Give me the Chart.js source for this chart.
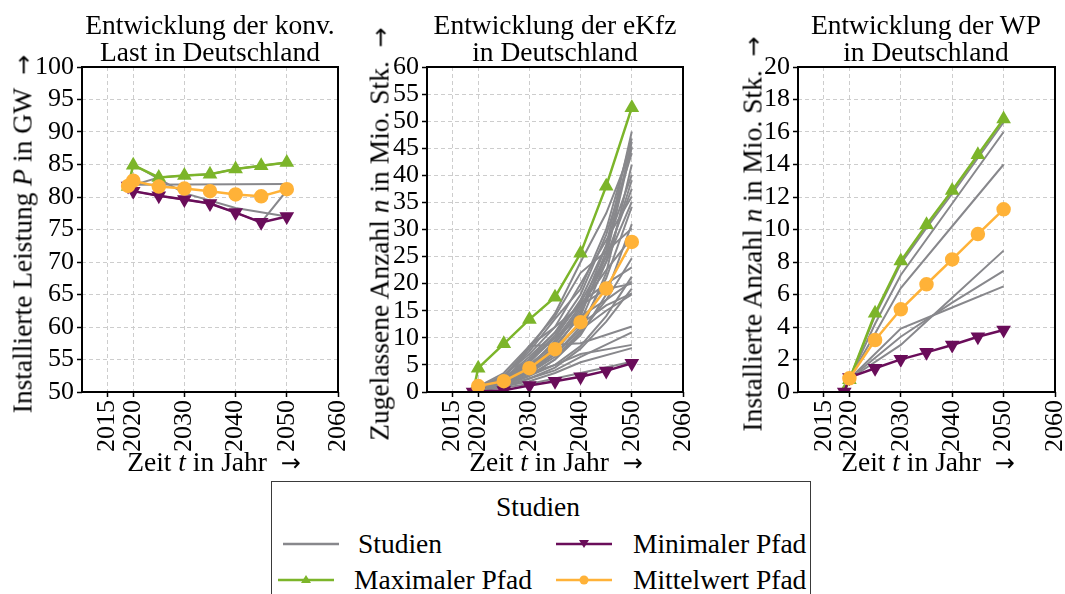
<!DOCTYPE html>
<html lang="de">
<head>
<meta charset="utf-8">
<title>Entwicklung in Deutschland</title>
<script src="https://cdn.jsdelivr.net/npm/chart.js@4.4.1/dist/chart.umd.min.js"></script>
<style>
    html, body { margin: 0; padding: 0; background: #fff; }
    body {
        width: 1065px; height: 594px; overflow: hidden; position: relative;
        font-family: 'Liberation Serif', 'Times New Roman', serif; color: #000;
    }
    canvas { position: absolute; }
    .title { position: absolute; width: 360px; text-align: center; font-size: 27.5px; line-height: 27px; z-index: 2; }
    .ylab, .xlab { position: absolute; white-space: nowrap; font-size: 27.5px; line-height: 28px; z-index: 2; }
    .ylab { transform: translate(-50%, -50%) rotate(-90deg); }
    .xlab { transform: translate(-50%, -50%); }
    .arr { font-family: 'DejaVu Sans', sans-serif; font-size: 24px; }
    #legend {
        position: absolute; left: 271px; top: 481px; width: 540px; height: 130px;
        border: 1px solid #3a3a3a; box-sizing: border-box;
    }
    #legend div { position: absolute; white-space: nowrap; font-size: 27.5px; line-height: 28px; }
    #legend svg { position: absolute; }
</style>
</head>
<body>

<div class="title" style="left:30px; top:11px;">Entwicklung der konv.<br>Last in Deutschland</div>
<div class="title" style="left:375px; top:11px;">Entwicklung der eKfz<br>in Deutschland</div>
<div class="title" style="left:746px; top:11px;">Entwicklung der WP<br>in Deutschland</div>

<canvas id="chartLast" width="326" height="420" style="left:32px; top:47px;"></canvas>
<canvas id="chartEkfz" width="326" height="420" style="left:377px; top:47px;"></canvas>
<canvas id="chartWp" width="327" height="420" style="left:748px; top:47px;"></canvas>

<div class="ylab" style="left:23px; top:234px;">Installierte Leistung <i>P</i> in GW &nbsp;<span class="arr">→</span></div>
<div class="ylab" style="left:380px; top:234px;">Zugelassene Anzahl <i>n</i> in Mio. Stk. &nbsp;<span class="arr">→</span></div>
<div class="ylab" style="left:753px; top:234px;">Installierte Anzahl <i>n</i> in Mio. Stk. &nbsp;<span class="arr">→</span></div>

<div class="xlab" style="left:214px; top:462px;">Zeit <i>t</i> in Jahr &nbsp;<span class="arr">→</span></div>
<div class="xlab" style="left:556px; top:462px;">Zeit <i>t</i> in Jahr &nbsp;<span class="arr">→</span></div>
<div class="xlab" style="left:928px; top:462px;">Zeit <i>t</i> in Jahr &nbsp;<span class="arr">→</span></div>

<div id="legend">
    <div style="left:224px; top:11px;">Studien</div>

    <svg style="left:10px; top:54px;" width="58" height="16">
        <line x1="1" y1="8" x2="57" y2="8" stroke="#88888c" stroke-width="2.5"/>
    </svg>
    <div style="left:86px; top:48px;">Studien</div>

    <svg style="left:5px; top:90px;" width="58" height="16">
        <line x1="1" y1="8" x2="57" y2="8" stroke="#7cb52a" stroke-width="2.5"/>
        <polygon points="29,3 34,11 24,11" fill="#7cb52a"/>
    </svg>
    <div style="left:82px; top:84px;">Maximaler Pfad</div>

    <svg style="left:283px; top:54px;" width="58" height="16">
        <line x1="1" y1="8" x2="57" y2="8" stroke="#6a0d5a" stroke-width="2.5"/>
        <polygon points="24,4 34,4 29,12" fill="#6a0d5a"/>
    </svg>
    <div style="left:361px; top:48px;">Minimaler Pfad</div>

    <svg style="left:283px; top:90px;" width="58" height="16">
        <line x1="1" y1="8" x2="57" y2="8" stroke="#ffb238" stroke-width="2.5"/>
        <circle cx="29" cy="8" r="4.5" fill="#ffb238"/>
    </svg>
    <div style="left:361px; top:84px;">Mittelwert Pfad</div>
</div>

<script>
// Jahre der Stützstellen (gemeinsam für alle Diagramme)
var YEARS = [2019, 2020, 2025, 2030, 2035, 2040, 2045, 2050];
var X_TICKS = [2015, 2020, 2030, 2040, 2050, 2060];

// konv. Last in GW
var LAST_STUDIEN = [
    [null, 81.9, null, null, null, null, null, 82.0],
    [null, 85.0, 82.8, 80.6, null, 78.3, null, 77.0],
    [81.7, 80.9, 80.2, 79.6, 79.0, 77.6, 76.1, 81.0],
    [81.6, null, 83.0, 83.3, 83.5, 84.3, 84.8, 85.3]
];
var LAST_MAX  = [81.6, 84.9, 83.0, 83.3, 83.5, 84.3, 84.8, 85.3];
var LAST_MIN  = [81.7, 80.9, 80.2, 79.6, 79.0, 77.6, 76.1, 77.0];
var LAST_MEAN = [81.7, 82.5, 81.6, 81.3, 80.9, 80.4, 80.1, 81.2];
var LAST_Y = [50, 100, 5];

// eKfz in Mio. Stk.
var EKFZ_STUDIEN = [
    [null, 0.5, 2.0, 5.0, 9.0, 15.0, 27.0, 48.1],
    [null, 0.5, 1.8, 4.5, 8.5, 14.0, 26.0, 46.2],
    [null, 0.4, 1.5, 4.0, 8.0, 14.5, 25.0, 45.3],
    [null, 0.6, 2.5, 6.0, 11.0, 18.0, 29.0, 44.1],
    [null, 0.5, 2.0, 5.5, 10.0, 17.0, 27.0, 40.1],
    [null, 0.5, 1.5, 4.0, 7.5, 13.0, 24.0, 39.1],
    [null, 0.8, 3.0, 7.0, 12.0, 20.0, 28.0, 36.1],
    [null, 0.5, 2.0, 5.0, 9.0, 15.5, 24.0, 35.1],
    [null, 0.4, 1.5, 3.5, 7.0, 12.0, 21.0, 34.2],
    [null, 0.6, 2.5, 8.5, 14.0, 22.0, 26.0, 30.2],
    [null, 0.5, 1.5, 3.5, 6.5, 11.0, 17.0, 24.7],
    [null, 0.4, 1.2, 3.0, 5.0, 8.5, 14.0, 21.3],
    [null, 0.6, 2.0, 6.0, 10.0, 14.0, 17.0, 20.4],
    [null, 0.5, 1.0, 2.5, 4.5, 8.0, 13.0, 19.1],
    [null, 0.5, 2.0, 4.5, 8.0, 12.5, 16.0, 18.2],
    [null, 0.3, 1.0, 8.5, null, 9.0, null, 12.1],
    [null, 0.5, 1.5, 3.5, 5.0, 7.0, null, 8.7],
    [null, 0.4, 1.0, 2.0, 3.5, 5.5, null, 8.1],
    [null, 0.3, 0.8, 1.5, 2.5, 3.5, null, 5.6],
    [null, 1.0, 3.5, 8.5, 12.0, 16.0, 19.0, 20.0],
    [null, 0.5, 1.5, 3.0, 6.0, 11.0, 22.0, 42.0],
    [null, 0.6, 2.2, 5.5, 10.5, 16.5, 25.0, 37.5],
    [null, 0.4, 1.2, 3.0, 6.0, 10.5, 18.0, 31.0],
    [null, 0.5, 1.8, 4.5, 9.5, 16.0, 22.5, 28.5],
    [null, 0.6, 2.5, 6.5, 11.0, 16.5, 20.0, 23.0],
    [null, 0.5, 1.6, 4.0, 7.0, 11.5, 15.0, 18.0],
    [null, 0.4, 1.0, 2.5, 4.0, 6.5, null, 11.0],
    [null, 0.7, 3.0, 7.5, 13.5, 19.0, 30.0, 46.8],
    [null, 0.8, 3.0, 8.0, 14.5, 24.0, 33.0, 45.0]
];
var EKFZ_MAX  = [0.0, 4.4, 8.9, 13.4, 17.5, 25.6, 38.0, 52.5];
var EKFZ_MIN  = [0.0, 0.1, 0.3, 1.2, 2.0, 2.8, 3.9, 5.3];
var EKFZ_MEAN = [null, 1.1, 2.0, 4.4, 7.9, 12.9, 19.1, 27.7];
var EKFZ_Y = [0, 60, 5];

// Wärmepumpen in Mio. Stk.
var WP_STUDIEN = [
    [0.0, 0.8, 4.7, 7.9, 10.1, 12.2, 14.4, 16.6],
    [null, 0.8, 4.2, 7.2, null, 11.6, null, 16.0],
    [null, 0.8, 3.6, 6.4, null, 10.2, null, 14.0],
    [null, 0.8, null, 2.9, null, 5.8, null, 8.7],
    [null, 0.8, null, 3.4, null, 5.5, null, 7.45],
    [null, 0.8, null, 3.9, null, 5.2, null, 6.5]
];
var WP_MAX  = [0.0, 0.75, 4.84, 8.06, 10.3, 12.4, 14.6, 16.8];
var WP_MIN  = [0.0, 0.9, 1.46, 2.01, 2.44, 2.89, 3.40, 3.82];
var WP_MEAN = [null, 0.84, 3.2, 5.09, 6.63, 8.16, 9.72, 11.24];
var WP_Y = [0, 20, 2];

var C_GREY = '#88888c', C_MAX = '#7cb52a', C_MIN = '#6a0d5a', C_MEAN = '#ffb238';

(function () {
    'use strict';

    Chart.defaults.font.family = "'Liberation Serif', 'Times New Roman', serif";
    Chart.defaults.font.size = 26;
    Chart.defaults.color = '#000';

    // Rahmen um die Achsen (alle vier Seiten)
    var frame = {
        id: 'frame',
        afterDraw: function (chart) {
            var a = chart.chartArea, ctx = chart.ctx;
            ctx.save();
            ctx.strokeStyle = '#000';
            ctx.lineWidth = 2;
            ctx.strokeRect(a.left, a.top, a.right - a.left, a.bottom - a.top);
            ctx.restore();
        }
    };

    function pts(vals) {
        var out = [];
        vals.forEach(function (v, i) {
            if (v !== null) out.push({ x: YEARS[i], y: v });
        });
        return out;
    }

    function path(vals, color, style, rot, order) {
        return {
            data: pts(vals),
            borderColor: color,
            backgroundColor: color,
            pointBackgroundColor: color,
            pointBorderColor: color,
            borderWidth: 2.5,
            pointStyle: style,
            pointRotation: rot,
            pointRadius: 6,
            order: order
        };
    }

    function grid() {
        return { color: '#cdcdcd', lineWidth: 1, tickColor: '#000', tickLength: 5, tickWidth: 1.5 };
    }

    function makeChart(id, studies, maxP, minP, meanP, yr) {
        var sets = [
            path(meanP, C_MEAN, 'circle', 0, 1),
            path(minP, C_MIN, 'triangle', 180, 2),
            path(maxP, C_MAX, 'triangle', 0, 3)
        ];
        studies.forEach(function (s) {
            sets.push({ data: pts(s), borderColor: C_GREY, borderWidth: 2, pointRadius: 0, order: 10 });
        });

        new Chart(document.getElementById(id), {
            type: 'line',
            data: { datasets: sets },
            options: {
                responsive: false,
                animation: false,
                events: [],
                layout: { padding: { top: 20, right: 20, left: 0, bottom: 0 } },
                plugins: { legend: { display: false }, tooltip: { enabled: false } },
                scales: {
                    x: {
                        type: 'linear', min: 2010, max: 2060,
                        afterBuildTicks: function (s) {
                            s.ticks = X_TICKS.map(function (v) { return { value: v }; });
                        },
                        afterFit: function (s) { s.height = 75; s.paddingLeft = 0; s.paddingRight = 0; },
                        ticks: {
                            autoSkip: false, minRotation: 90, maxRotation: 90, padding: 3,
                            callback: function (v) { return String(v); }
                        },
                        grid: grid(),
                        border: { display: false, dash: [4, 3] }
                    },
                    y: {
                        min: yr[0], max: yr[1],
                        afterFit: function (s) { s.width = 50; s.paddingTop = 0; s.paddingBottom = 0; },
                        ticks: {
                            autoSkip: false, stepSize: yr[2], padding: 3,
                            callback: function (v) { return String(v); }
                        },
                        grid: grid(),
                        border: { display: false, dash: [4, 3] }
                    }
                }
            },
            plugins: [frame]
        });
    }

    makeChart('chartLast', LAST_STUDIEN, LAST_MAX, LAST_MIN, LAST_MEAN, LAST_Y);
    makeChart('chartEkfz', EKFZ_STUDIEN, EKFZ_MAX, EKFZ_MIN, EKFZ_MEAN, EKFZ_Y);
    makeChart('chartWp', WP_STUDIEN, WP_MAX, WP_MIN, WP_MEAN, WP_Y);
})();
</script>
</body>
</html>
